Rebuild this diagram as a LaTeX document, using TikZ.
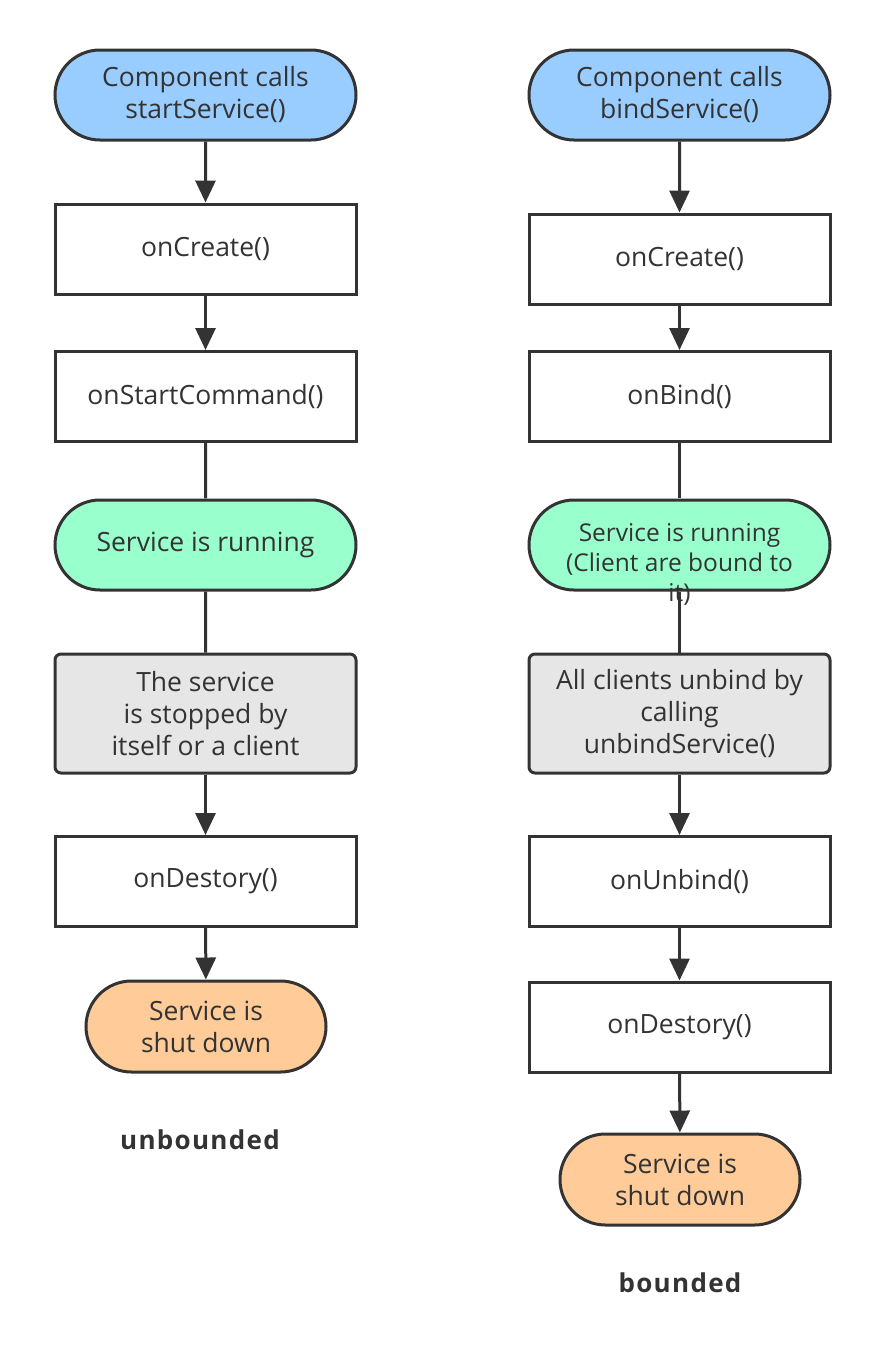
\documentclass[tikz,border=0pt]{standalone}
\usepackage{fontspec}
\setmainfont{Open Sans}
\newfontfamily\capfont{Open Sans}[LetterSpace=5]
\usetikzlibrary{arrows.meta,shapes.misc}
\definecolor{ln}{HTML}{333333}
\definecolor{blu}{HTML}{99CCFF}
\definecolor{grn}{HTML}{99FFCC}
\definecolor{gry}{HTML}{E6E6E6}
\definecolor{org}{HTML}{FFCC99}
\tikzset{
  base/.style={draw=ln, line width=3pt, text=ln, font=\fontsize{26.5}{32}\selectfont, align=center, inner sep=0pt},
  rect/.style={base, fill=white, minimum width=301pt, minimum height=90pt},
  pill/.style={base, rounded rectangle, rounded rectangle arc length=180, minimum width=301pt, minimum height=90pt},
  endpill/.style={base, rounded rectangle, fill=org, minimum width=240pt, minimum height=91pt},
  graybox/.style={base, fill=gry, rounded corners=6pt, minimum width=301pt, minimum height=119pt},
  arr/.style={draw=ln, line width=3pt, -{Triangle[length=22pt,width=20pt]}},
  lin/.style={draw=ln, line width=3pt},
  captxt/.style={text=ln, font=\capfont\bfseries\fontsize{26}{30}\selectfont}
}
\begin{document}
\begin{tikzpicture}[x=1pt,y=-1pt]
\useasboundingbox (0,0) rectangle (880,1357);
% left column
\node[pill, fill=blu] (ls) at (205.5,95) {Component calls\\startService()};
\node[rect] (lc) at (205.5,249) {onCreate()};
\node[rect] (lsc) at (205.5,396.5) {onStartCommand()};
\node[pill, fill=grn] (lr) at (205.5,545) {Service is running};
\node[graybox] (lg) at (205.5,713.5) {The service\\is stopped by\\itself or a client};
\node[rect] (ld) at (205.5,881.5) {onDestory()};
\node[endpill] (le) at (206,1026.5) {Service is\\shut down};
\node[captxt] (lt) at (200,1140) {unbounded};
\draw[arr] (ls) -- (lc);
\draw[arr] (lc) -- (lsc);
\draw[lin] (lsc) -- (lr);
\draw[lin] (lr) -- (lg);
\draw[arr] (lg) -- (ld);
\draw[arr] (ld) -- (le);
% right column
\node[pill, fill=blu] (rs) at (679.5,95) {Component calls\\bindService()};
\node[rect] (rc) at (679.5,259) {onCreate()};
\node[rect] (rb) at (679.5,396.5) {onBind()};
\node[pill, fill=grn] (rr) at (679.5,545) {};
\node[text=ln, font=\fontsize{24.5}{30}\selectfont, align=center, inner sep=0pt] (rrt) at (679.5,564) {Service is running\\(Client are bound to\\it)};
\node[graybox] (rg) at (679.5,713.5) {All clients unbind by\\calling\\unbindService()};
\node[rect] (ru) at (679.5,881.5) {onUnbind()};
\node[rect] (rd) at (679.5,1027) {onDestory()};
\node[endpill] (re) at (680,1179.5) {Service is\\shut down};
\node[captxt] (rt) at (680,1283) {bounded};
\draw[lin] (rb) -- (rr);
\draw[lin] (rr) -- (rg);
\draw[arr] (rs) -- (rc);
\draw[arr] (rc) -- (rb);
\draw[arr] (rg) -- (ru);
\draw[arr] (ru) -- (rd);
\draw[arr] (rd) -- (re);
\end{tikzpicture}
\end{document}
